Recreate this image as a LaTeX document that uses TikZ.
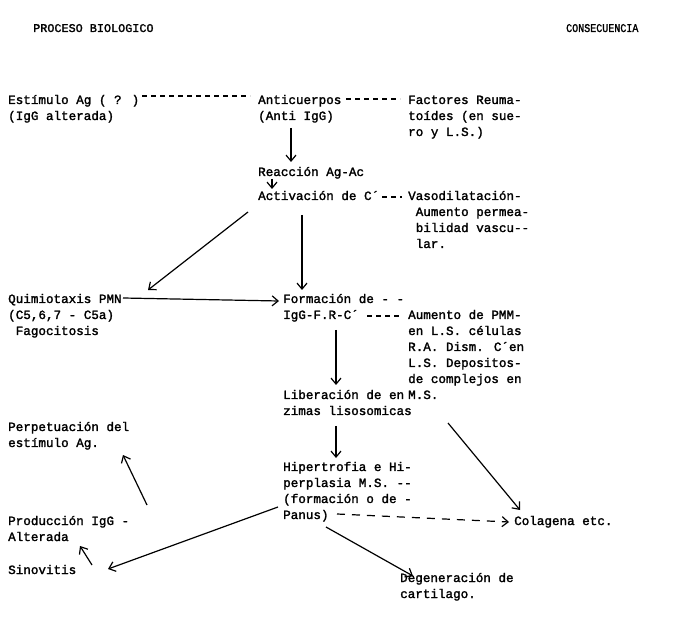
\documentclass[tikz,border=0pt]{standalone}
\usepackage{fontspec}
\usetikzlibrary{arrows.meta,calc}
\newfontfamily\tw{Liberation Mono}[FakeBold=1.8]
\newcommand{\blk}[1]{\begin{tabular}[t]{@{}l@{}}#1\end{tabular}}
\tikzset{
  txt/.style={anchor=base west, inner sep=0pt,
    font=\tw\fontsize{12.6}{16}\selectfont},
  hdr/.style={anchor=base west, inner sep=0pt,
    font=\tw\fontsize{11.8}{13}\selectfont},
  tip/.style={-{Straight Barb[length=6pt,width=10pt,line width=1.2pt]}},
  arr/.style={line width=1.2pt, tip},
  lnk/.style={line width=1.2pt, dash pattern=on 5pt off 4pt},
}
\begin{document}
\begin{tikzpicture}[x=1pt,y=-1pt]
\useasboundingbox (0,0) rectangle (681,631);
\node[hdr] (h1) at (33,32) {PROCESO BIOLOGICO};
\node[hdr, xscale=0.85] (h2) at (566,32) {CONSECUENCIA};

\node[txt] (est) at (8,104) {\blk{Estímulo Ag ( ? )\\(IgG alterada)}};
\node[txt] (anti) at (258,104) {\blk{Anticuerpos\\(Anti IgG)}};
\node[txt] (fac) at (408,104) {\blk{Factores Reuma-\\toídes (en sue-\\ro y L.S.)}};
\node[txt] (reac) at (258,176) {Reacción Ag-Ac};
\node[txt] (act) at (258,200) {Activación de C´};
\node[txt] (vaso) at (408,200) {\blk{Vasodilatación-\\\hphantom{a}Aumento permea-\\\hphantom{a}bilidad vascu--\\\hphantom{a}lar.}};
\node[txt] (quim) at (8,303) {\blk{Quimiotaxis PMN\\(C5,6,7 - C5a)\\\hphantom{a}Fagocitosis}};
\node[txt] (form) at (283,303) {\blk{Formación de - -\\IgG-F.R-C´}};
\node[txt] (aum) at (408,319) {\blk{Aumento de PMM-\\en L.S. células\\R.A. Dism. C´en\\L.S. Depositos-\\de complejos en\\M.S.}};
\node[txt] (lib) at (283,399) {\blk{Liberación de en\\zimas lisosomicas}};
\node[txt] (perp) at (8,431) {\blk{Perpetuación del\\estímulo Ag.}};
\node[txt] (hip) at (283,471) {\blk{Hipertrofia e Hi-\\perplasia M.S. --\\(formación o de -\\Panus)}};
\node[txt] (col) at (514,525) {Colagena etc.};
\node[txt] (prod) at (8,525) {\blk{Producción IgG -\\Alterada}};
\node[txt] (sino) at (8,574) {Sinovitis};
\node[txt] (deg) at (400,582) {\blk{Degeneración de\\cartilago.}};

% dashed links
\draw[lnk] ($(est.base west)+(134,-8)$) -- ($(anti.base west)+(-8,-8)$);
\draw[lnk] ($(anti.base west)+(88,-5)$) -- ($(fac.base west)+(-8,-5)$);
\draw[lnk] ($(act.base west)+(124,-3)$) -- ($(vaso.base west)+(-6,-3)$);
\draw[lnk] ($(form.base west)+(84,13)$) -- ($(aum.base west)+(-8,-3)$);
\draw[line width=1.2pt, dash pattern=on 8pt off 7pt, tip]
  ($(hip.base west)+(54,43)$) -- ($(col.base west)+(-5,-3)$);

% solid arrows
\draw[arr] ($(anti.base west)+(33,24)$) -- ($(reac.base west)+(33,-14)$);
\draw[arr] ($(reac.base west)+(14,3)$) -- ($(act.base west)+(14,-11)$);
\draw[arr] ($(act.base west)+(-10,12)$) -- ($(quim.base west)+(140,-13)$);
\draw[arr] ($(act.base west)+(44,15)$) -- ($(form.base west)+(19,-13)$);
\draw[arr] ($(quim.base west)+(115,-5)$) -- ($(form.base west)+(-4,-2)$);
\draw[arr] ($(form.base west)+(53,27)$) -- ($(lib.base west)+(53,-14)$);
\draw[arr] ($(lib.base west)+(53,27)$) -- ($(hip.base west)+(53,-13)$);
\draw[arr] ($(lib.base west)+(165,24)$) -- ($(col.base west)+(6,-15)$);
\draw[arr] ($(prod.base west)+(139,-20)$) -- ($(perp.base west)+(115,24)$);
\draw[arr] ($(sino.base west)+(84,-9)$) -- ($(prod.base west)+(72,21)$);
\draw[arr] ($(hip.base west)+(-5,36)$) -- ($(sino.base west)+(100,-5)$);
\draw[arr] ($(hip.base west)+(43,56)$) -- ($(deg.base west)+(13,-6)$);
\end{tikzpicture}
\end{document}
